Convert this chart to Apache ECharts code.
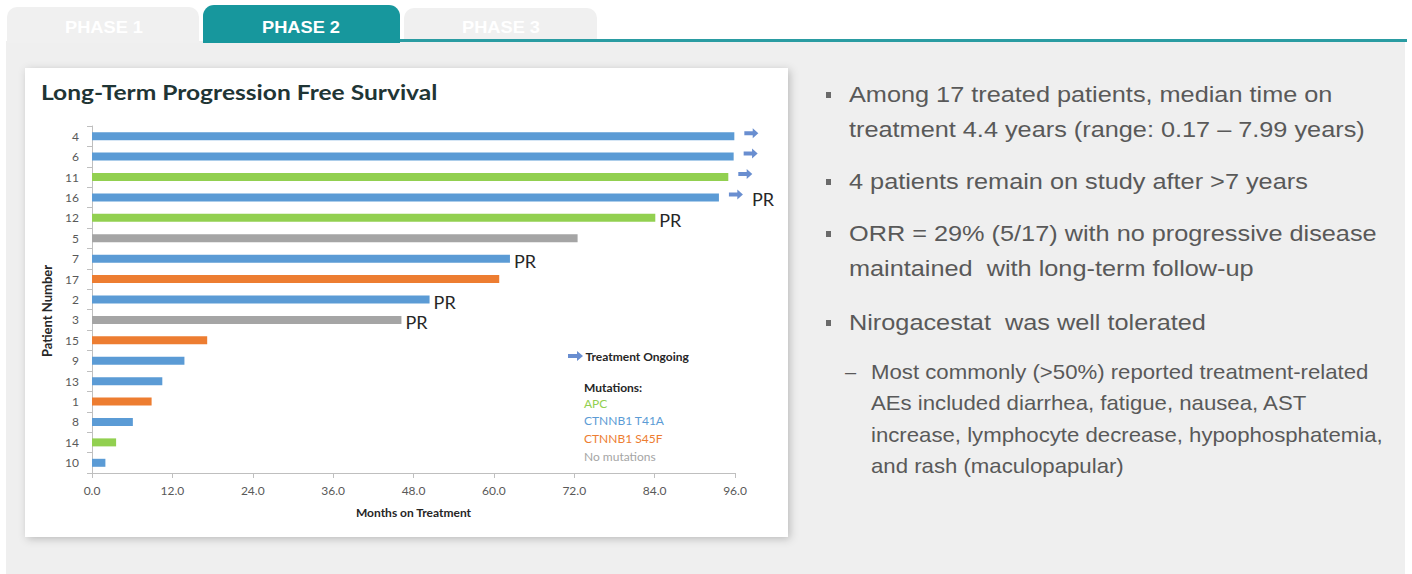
<!DOCTYPE html>
<html>
<head>
<meta charset="utf-8">
<script src="https://cdn.jsdelivr.net/npm/echarts@6/dist/echarts.min.js"></script>
<style>
  html, body { margin: 0; padding: 0; background: #fff; }
  #chart { width: 1412px; height: 574px; }
</style>
</head>
<body>
<div id="chart"></div>
<script>
// patients top to bottom, months on treatment
const patients = ['4', '6', '11', '16', '12', '5', '7', '17', '2', '3', '15', '9', '13', '1', '8', '14', '10'];
const months = [95.9, 95.8, 95.0, 93.6, 84.1, 72.5, 62.4, 60.8, 50.4, 46.2, 17.2, 13.8, 10.5, 8.9, 6.1, 3.6, 2.0];
const patientMutation = ['CTNNB1 T41A', 'CTNNB1 T41A', 'APC', 'CTNNB1 T41A', 'APC', 'No mutations', 'CTNNB1 T41A',
    'CTNNB1 S45F', 'CTNNB1 T41A', 'No mutations', 'CTNNB1 S45F', 'CTNNB1 T41A', 'CTNNB1 T41A', 'CTNNB1 S45F',
    'CTNNB1 T41A', 'APC', 'CTNNB1 T41A'];
const mutationTypes = ['APC', 'CTNNB1 T41A', 'CTNNB1 S45F', 'No mutations'];
const mutationColors = ['#92d050', '#5b9bd5', '#ed7d31', '#a5a5a5'];
const ongoingPatients = ['4', '6', '11', '16'];
const prPatients = ['16', '12', '7', '2', '3'];
const xTicks = [0, 12, 24, 36, 48, 60, 72, 84, 96];

const tabs = ['PHASE 1', 'PHASE 2', 'PHASE 3'];
const bullets = [
    ['Among 17 treated patients, median time on', 'treatment 4.4 years (range: 0.17 \u2013 7.99 years)'],
    ['4 patients remain on study after >7 years'],
    ['ORR = 29% (5/17) with no progressive disease', 'maintained  with long-term follow-up'],
    ['Nirogacestat  was well tolerated']
];
const subBullet = ['Most commonly (>50%) reported treatment-related', 'AEs included diarrhea, fatigue, nausea, AST',
    'increase, lymphocyte decrease, hypophosphatemia,', 'and rash (maculopapular)'];

const arrowPath = 'path://M0,3 L9,3 L9,0 L15,5 L9,10 L9,7 L0,7 Z';
const chartFont = 'Lato';
const slideFont = '"Liberation Sans", Arial, sans-serif';

const chart = echarts.init(document.getElementById('chart'), null, { renderer: 'svg' });

const barSeries = mutationTypes.map((type, k) => ({
    name: type,
    type: 'bar',
    barWidth: 8,
    barGap: '-100%',
    itemStyle: { color: mutationColors[k] },
    label: {
        position: 'right', distance: 4, formatter: 'PR',
        fontFamily: chartFont, fontSize: 18, color: '#262626'
    },
    data: patients.map((p, i) => {
        if (patientMutation[i] !== type) return '-';
        if (prPatients.includes(p)) {
            return { value: months[i], label: { show: true, distance: ongoingPatients.includes(p) ? 33 : 4, offset: [0, 2] } };
        }
        return months[i];
    })
}));

const arrowSeries = {
    name: 'Treatment Ongoing',
    type: 'scatter',
    symbol: arrowPath,
    symbolSize: [14, 10],
    symbolOffset: [17, -3],
    itemStyle: { color: '#4472c4' },
    silent: true,
    data: ongoingPatients.map(p => [months[patients.indexOf(p)], p])
};

// slide frame: panel, tabs, card, title and the bullet text
const graphics = [
    { type: 'rect', z: -20, shape: { x: 6, y: 41, width: 1399, height: 540 }, style: { fill: '#efefef' } },
    { type: 'rect', z: -19, shape: { x: 7, y: 7, width: 192, height: 36, r: [10, 10, 0, 0] }, style: { fill: '#f0f0f0' } },
    { type: 'rect', z: -19, shape: { x: 404, y: 8, width: 193, height: 34, r: [10, 10, 0, 0] }, style: { fill: '#f0f0f0' } },
    { type: 'rect', z: -18, shape: { x: 398, y: 39, width: 1009, height: 3 }, style: { fill: '#2a9ca2' } },
    { type: 'rect', z: -18, shape: { x: 203, y: 5, width: 197, height: 38, r: [11, 11, 0, 0] }, style: { fill: '#17979d' } },
    {
        type: 'rect', z: -15, shape: { x: 25, y: 68, width: 763, height: 469 },
        style: { fill: '#ffffff', shadowBlur: 8, shadowOffsetX: 2, shadowOffsetY: 2, shadowColor: 'rgba(0,0,0,0.22)' }
    },
    {
        type: 'text', x: 41, y: 92, scaleX: 1.17,
        style: { text: 'Long-Term Progression Free Survival', font: 'bold 21px ' + chartFont, fill: '#1f3535', verticalAlign: 'middle' }
    },
    {
        type: 'text', x: 47, y: 311, rotation: Math.PI / 2,
        style: { text: 'Patient Number', font: 'bold 13px ' + chartFont, fill: '#262626', align: 'center', verticalAlign: 'middle' }
    },
    {
        type: 'text', x: 584, y: 387,
        style: { text: 'Mutations:', font: 'bold 12px ' + chartFont, fill: '#262626', verticalAlign: 'middle' }
    }
];

tabs.forEach((t, i) => {
    graphics.push({
        type: 'text', x: [104, 301, 501][i], y: 27, scaleX: 1.14,
        style: { text: t, font: 'bold 16px ' + slideFont, fill: '#ffffff', align: 'center', verticalAlign: 'middle' }
    });
});

const bulletRows = [[95, 130], [182], [234, 269], [323]];
bullets.forEach((lines, b) => {
    graphics.push({ type: 'rect', shape: { x: 826, y: bulletRows[b][0] - 3, width: 5, height: 6 }, style: { fill: '#6a6a6a' } });
    lines.forEach((line, j) => {
        graphics.push({
            type: 'text', x: 849, y: bulletRows[b][j], scaleX: 1.15,
            style: { text: line, font: '22px ' + slideFont, fill: '#595959', verticalAlign: 'middle' }
        });
    });
});
const subRows = [372, 403, 435, 466];
graphics.push({
    type: 'text', x: 845, y: subRows[0],
    style: { text: '\u2013', font: '20px ' + slideFont, fill: '#595959', verticalAlign: 'middle' }
});
subBullet.forEach((line, j) => {
    graphics.push({
        type: 'text', x: 871, y: subRows[j], scaleX: 1.11,
        style: { text: line, font: '20px ' + slideFont, fill: '#595959', verticalAlign: 'middle' }
    });
});

chart.setOption({
    animation: false,
    grid: { left: 92, right: 677, top: 126, bottom: 101, containLabel: false },
    xAxis: {
        type: 'value', min: xTicks[0], max: xTicks[xTicks.length - 1], interval: 12,
        axisLine: { show: true, lineStyle: { color: '#bfbfbf' } },
        axisTick: { show: true, length: 5, lineStyle: { color: '#bfbfbf' } },
        splitLine: { show: false },
        axisLabel: { formatter: v => v.toFixed(1), fontFamily: chartFont, fontSize: 12, color: '#595959', margin: 11 },
        name: 'Months on Treatment', nameLocation: 'middle', nameGap: 33,
        nameTextStyle: { fontFamily: chartFont, fontWeight: 'bold', fontSize: 12, color: '#262626' }
    },
    yAxis: {
        type: 'category', data: patients, inverse: true,
        axisLine: { show: true, lineStyle: { color: '#bfbfbf' } },
        axisTick: { show: true, length: 5, lineStyle: { color: '#bfbfbf' } },
        axisLabel: { fontFamily: chartFont, fontSize: 12, color: '#595959', margin: 13 }
    },
    legend: [
        {
            data: [{ name: 'Treatment Ongoing', icon: arrowPath }],
            left: 563, top: 345, itemWidth: 18, itemHeight: 10, itemGap: 0, selectedMode: false,
            textStyle: { fontFamily: chartFont, fontWeight: 'bold', fontSize: 12, color: '#262626', padding: [0, 0, 0, -4] }
        },
        {
            data: mutationTypes.map((t, k) => ({ name: t, icon: 'none', textStyle: { color: mutationColors[k] } })),
            orient: 'vertical', left: 579, top: 397, itemWidth: 0, itemHeight: 12, itemGap: 5.7,
            padding: 0, selectedMode: false,
            textStyle: { fontFamily: chartFont, fontSize: 12, lineHeight: 12 }
        }
    ],
    graphic: graphics,
    series: [...barSeries, arrowSeries]
});
</script>
</body>
</html>
